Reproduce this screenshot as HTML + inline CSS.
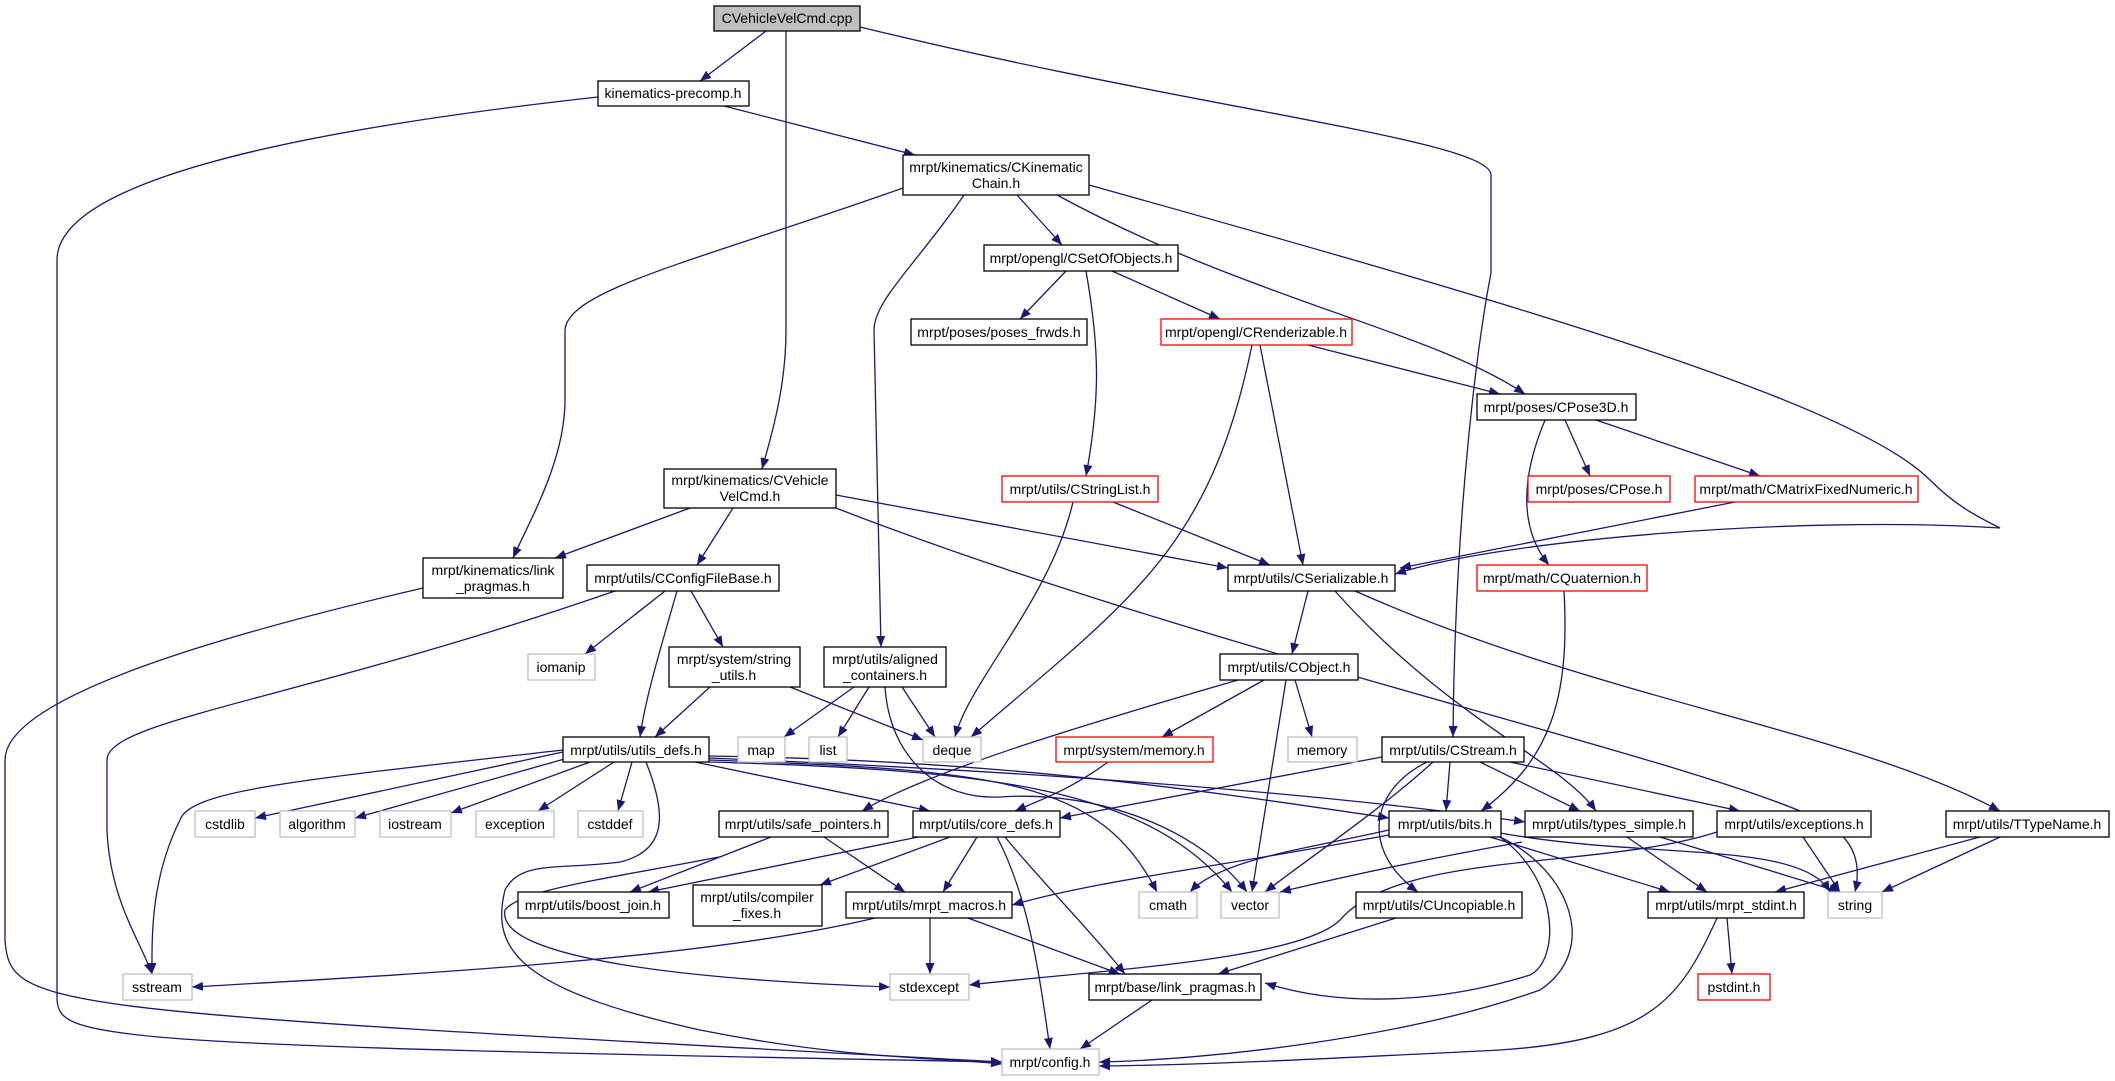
<!DOCTYPE html>
<html><head><meta charset="utf-8">
<style>
html,body{margin:0;padding:0;background:#fff;}
svg{display:block;}
text{font-family:"Liberation Sans",sans-serif;font-size:14px;fill:#000;text-anchor:middle;}
.e{fill:none;stroke:#191970;stroke-width:1.3;}
.n{fill:#fff;stroke:#000;stroke-width:1.3;}
.g{fill:#fff;stroke:#bfbfbf;stroke-width:1.3;}
.r{fill:#fff;stroke:#ff0000;stroke-width:1.3;}
</style></head><body>
<svg width="2115" height="1081" viewBox="0 0 2115 1081" xmlns="http://www.w3.org/2000/svg">
<defs>
<marker id="a" markerWidth="12" markerHeight="10" refX="11" refY="4.5" orient="auto" markerUnits="userSpaceOnUse">
<path d="M0,0 L11,4.5 L0,9 z" fill="#191970"/>
</marker>
</defs>
<g class="e" marker-end="url(#a)">
<path d="M766,31 L700,81"/>
<path d="M786,31 L786,330 C786,390 770,440 762,469"/>
<path d="M860,27 C1200,110 1491,140 1491,175 L1491,273 C1480,330 1455,500 1453,737"/>
<path d="M598,97 C300,130 57,180 57,260 L57,1000 C60,1040 100,1045 1002,1062"/>
<path d="M724,106 L915,155"/>
<path d="M903,188 C700,260 565,290 565,331 L565,400 C565,460 530,520 513,558"/>
<path d="M964,195 C920,260 874,300 874,330 L881,647"/>
<path d="M1017,195 L1062,245"/>
<path d="M1057,195 C1250,300 1430,330 1525,394"/>
<path d="M1089,185 C1500,300 1850,400 1930,480 C1960,510 1985,520 2000,528 C1800,515 1500,540 1395,574"/>
<path d="M1066,271 L1020,319"/>
<path d="M1086,271 C1100,350 1100,400 1086,476"/>
<path d="M1112,271 L1220,319"/>
<path d="M1308,345 L1500,394"/>
<path d="M1260,345 L1303,565"/>
<path d="M1252,345 C1210,550 1130,600 971,737"/>
<path d="M1565,420 L1590,476"/>
<path d="M1596,420 L1760,476"/>
<path d="M1545,420 C1520,480 1520,530 1549,565"/>
<path d="M1735,502 L1400,568"/>
<path d="M1113,502 L1270,565"/>
<path d="M1073,502 C1050,600 970,680 955,737"/>
<path d="M690,508 L555,558"/>
<path d="M733,508 L697,565"/>
<path d="M836,495 L1228,568"/>
<path d="M836,508 C1200,650 1700,760 1820,820 C1860,840 1860,870 1855,892"/>
<path d="M423,588 C200,640 5,700 5,760 L5,940 C10,1010 40,1010 1002,1062"/>
<path d="M615,591 C300,700 107,720 107,760 L107,830 C110,900 140,940 152,974"/>
<path d="M665,591 L585,654"/>
<path d="M677,591 C660,650 645,700 640,737"/>
<path d="M691,591 L723,647"/>
<path d="M710,687 L655,737"/>
<path d="M790,687 L923,740"/>
<path d="M854,687 L784,737"/>
<path d="M869,687 L838,737"/>
<path d="M902,687 L935,737"/>
<path d="M885,687 C890,760 940,800 1000,797 C1100,790 1200,830 1247,892"/>
<path d="M563,752 L255,818"/>
<path d="M568,758 L355,818"/>
<path d="M590,762 L451,813"/>
<path d="M614,762 L538,811"/>
<path d="M632,762 L618,811"/>
<path d="M563,750 C300,780 190,790 180,820 C150,880 152,940 152,974"/>
<path d="M646,762 C665,810 670,850 620,862 C560,870 520,860 505,890 C490,950 520,990 700,1030 C850,1060 950,1058 1002,1064"/>
<path d="M719,857 C600,880 520,890 505,910 C495,960 700,980 890,987"/>
<path d="M695,762 L930,811"/>
<path d="M709,756 C1000,760 1200,790 1389,818"/>
<path d="M709,758 C1000,770 1300,790 1525,822"/>
<path d="M709,760 C1000,770 1100,780 1157,892"/>
<path d="M709,762 C1000,770 1150,790 1232,892"/>
<path d="M771,837 L630,892"/>
<path d="M824,837 L905,892"/>
<path d="M918,837 L648,892"/>
<path d="M950,837 L820,885"/>
<path d="M977,837 L943,892"/>
<path d="M997,837 C1030,900 1040,980 1050,1049"/>
<path d="M1005,837 C1040,880 1090,930 1125,974"/>
<path d="M875,918 C700,960 400,975 192,987"/>
<path d="M930,918 L930,974"/>
<path d="M968,918 L1120,974"/>
<path d="M1238,680 C1100,720 930,770 862,811"/>
<path d="M1264,680 L1162,737"/>
<path d="M1286,680 L1252,892"/>
<path d="M1295,680 L1312,737"/>
<path d="M1108,762 C1070,790 1040,800 1015,811"/>
<path d="M1308,591 L1292,654"/>
<path d="M1335,591 C1450,720 1560,760 1596,811"/>
<path d="M1355,591 C1600,700 1850,730 2000,811"/>
<path d="M1564,591 C1570,700 1550,760 1481,811"/>
<path d="M1382,757 L1060,818"/>
<path d="M1450,762 L1446,811"/>
<path d="M1480,762 L1580,811"/>
<path d="M1510,762 L1740,811"/>
<path d="M1433,762 C1380,810 1320,850 1265,892"/>
<path d="M1427,762 C1370,790 1360,850 1418,892"/>
<path d="M1389,830 C1300,850 1220,860 1190,892"/>
<path d="M1389,835 C1200,870 1100,880 1012,905"/>
<path d="M1500,837 C1560,880 1560,960 1530,975 C1450,1000 1350,1010 1265,983"/>
<path d="M1500,837 C1570,870 1600,950 1540,990 C1400,1040 1200,1060 1099,1062"/>
<path d="M1490,837 L1670,892"/>
<path d="M1500,833 C1650,860 1800,840 1830,892"/>
<path d="M1627,837 L1707,892"/>
<path d="M1660,837 L1840,892"/>
<path d="M1522,842 C1420,860 1330,880 1280,892"/>
<path d="M1717,832 C1600,870 1400,850 1340,920 C1300,960 1100,970 969,985"/>
<path d="M1803,837 L1840,892"/>
<path d="M1980,837 L1775,892"/>
<path d="M2000,837 L1882,892"/>
<path d="M1727,918 L1732,974"/>
<path d="M1717,918 C1680,1000 1650,1040 1500,1050 C1300,1060 1200,1065 1099,1066"/>
<path d="M1396,918 L1218,974"/>
<path d="M1152,1000 L1080,1049"/>
</g>
<g>
<rect x="714" y="6" width="146" height="25" fill="#bfbfbf" stroke="#000" stroke-width="1.3"/><text x="787" y="23">CVehicleVelCmd.cpp</text>
<rect class="n" x="598" y="81" width="151" height="25"/><text x="673" y="98">kinematics-precomp.h</text>
<rect class="n" x="903" y="155" width="186" height="40"/><text x="996" y="172">mrpt/kinematics/CKinematic</text><text x="996" y="188">Chain.h</text>
<rect class="n" x="984" y="245" width="194" height="26"/><text x="1081" y="263">mrpt/opengl/CSetOfObjects.h</text>
<rect class="n" x="911" y="319" width="176" height="26"/><text x="999" y="337">mrpt/poses/poses_frwds.h</text>
<rect class="r" x="1161" y="319" width="191" height="26"/><text x="1256" y="337">mrpt/opengl/CRenderizable.h</text>
<rect class="n" x="1477" y="394" width="159" height="26"/><text x="1556" y="412">mrpt/poses/CPose3D.h</text>
<rect class="n" x="664" y="469" width="172" height="39"/><text x="750" y="485">mrpt/kinematics/CVehicle</text><text x="750" y="501">VelCmd.h</text>
<rect class="r" x="1002" y="476" width="156" height="26"/><text x="1080" y="494">mrpt/utils/CStringList.h</text>
<rect class="r" x="1528" y="476" width="142" height="26"/><text x="1599" y="494">mrpt/poses/CPose.h</text>
<rect class="r" x="1695" y="476" width="223" height="26"/><text x="1806" y="494">mrpt/math/CMatrixFixedNumeric.h</text>
<rect class="n" x="423" y="558" width="140" height="40"/><text x="493" y="575">mrpt/kinematics/link</text><text x="493" y="591">_pragmas.h</text>
<rect class="n" x="587" y="565" width="192" height="26"/><text x="683" y="583">mrpt/utils/CConfigFileBase.h</text>
<rect class="n" x="1228" y="565" width="167" height="26"/><text x="1311" y="583">mrpt/utils/CSerializable.h</text>
<rect class="r" x="1477" y="565" width="170" height="26"/><text x="1562" y="583">mrpt/math/CQuaternion.h</text>
<rect class="g" x="528" y="654" width="67" height="26"/><text x="561" y="672">iomanip</text>
<rect class="n" x="669" y="647" width="131" height="40"/><text x="734" y="664">mrpt/system/string</text><text x="734" y="680">_utils.h</text>
<rect class="n" x="824" y="647" width="122" height="40"/><text x="885" y="664">mrpt/utils/aligned</text><text x="885" y="680">_containers.h</text>
<rect class="n" x="1220" y="654" width="138" height="26"/><text x="1289" y="672">mrpt/utils/CObject.h</text>
<rect class="n" x="563" y="737" width="146" height="25"/><text x="636" y="755">mrpt/utils/utils_defs.h</text>
<rect class="g" x="738" y="737" width="47" height="25"/><text x="761" y="755">map</text>
<rect class="g" x="809" y="737" width="38" height="25"/><text x="828" y="755">list</text>
<rect class="g" x="923" y="737" width="58" height="25"/><text x="952" y="755">deque</text>
<rect class="r" x="1056" y="737" width="157" height="25"/><text x="1134" y="755">mrpt/system/memory.h</text>
<rect class="g" x="1288" y="737" width="69" height="25"/><text x="1322" y="755">memory</text>
<rect class="n" x="1382" y="737" width="142" height="25"/><text x="1453" y="755">mrpt/utils/CStream.h</text>
<rect class="g" x="195" y="811" width="60" height="26"/><text x="225" y="829">cstdlib</text>
<rect class="g" x="280" y="811" width="75" height="26"/><text x="317" y="829">algorithm</text>
<rect class="g" x="380" y="811" width="71" height="26"/><text x="415" y="829">iostream</text>
<rect class="g" x="476" y="811" width="78" height="26"/><text x="515" y="829">exception</text>
<rect class="g" x="578" y="811" width="65" height="26"/><text x="610" y="829">cstddef</text>
<rect class="n" x="719" y="811" width="169" height="26"/><text x="803" y="829">mrpt/utils/safe_pointers.h</text>
<rect class="n" x="913" y="811" width="147" height="26"/><text x="986" y="829">mrpt/utils/core_defs.h</text>
<rect class="n" x="1389" y="811" width="112" height="26"/><text x="1445" y="829">mrpt/utils/bits.h</text>
<rect class="n" x="1525" y="811" width="168" height="26"/><text x="1609" y="829">mrpt/utils/types_simple.h</text>
<rect class="n" x="1717" y="811" width="154" height="26"/><text x="1794" y="829">mrpt/utils/exceptions.h</text>
<rect class="n" x="1946" y="811" width="163" height="26"/><text x="2027" y="829">mrpt/utils/TTypeName.h</text>
<rect class="n" x="518" y="892" width="151" height="26"/><text x="593" y="910">mrpt/utils/boost_join.h</text>
<rect class="n" x="693" y="885" width="129" height="41"/><text x="757" y="902">mrpt/utils/compiler</text><text x="757" y="918">_fixes.h</text>
<rect class="n" x="846" y="892" width="166" height="26"/><text x="929" y="910">mrpt/utils/mrpt_macros.h</text>
<rect class="g" x="1139" y="892" width="58" height="26"/><text x="1168" y="910">cmath</text>
<rect class="g" x="1221" y="892" width="58" height="26"/><text x="1250" y="910">vector</text>
<rect class="n" x="1356" y="892" width="166" height="26"/><text x="1439" y="910">mrpt/utils/CUncopiable.h</text>
<rect class="n" x="1648" y="892" width="156" height="26"/><text x="1726" y="910">mrpt/utils/mrpt_stdint.h</text>
<rect class="g" x="1828" y="892" width="54" height="26"/><text x="1855" y="910">string</text>
<rect class="g" x="123" y="974" width="69" height="26"/><text x="157" y="992">sstream</text>
<rect class="g" x="890" y="974" width="79" height="26"/><text x="929" y="992">stdexcept</text>
<rect class="n" x="1089" y="974" width="172" height="26"/><text x="1175" y="992">mrpt/base/link_pragmas.h</text>
<rect class="r" x="1698" y="974" width="72" height="26"/><text x="1734" y="992">pstdint.h</text>
<rect class="g" x="1002" y="1049" width="97" height="26"/><text x="1050" y="1067">mrpt/config.h</text>
</g>
</svg>
</body></html>
